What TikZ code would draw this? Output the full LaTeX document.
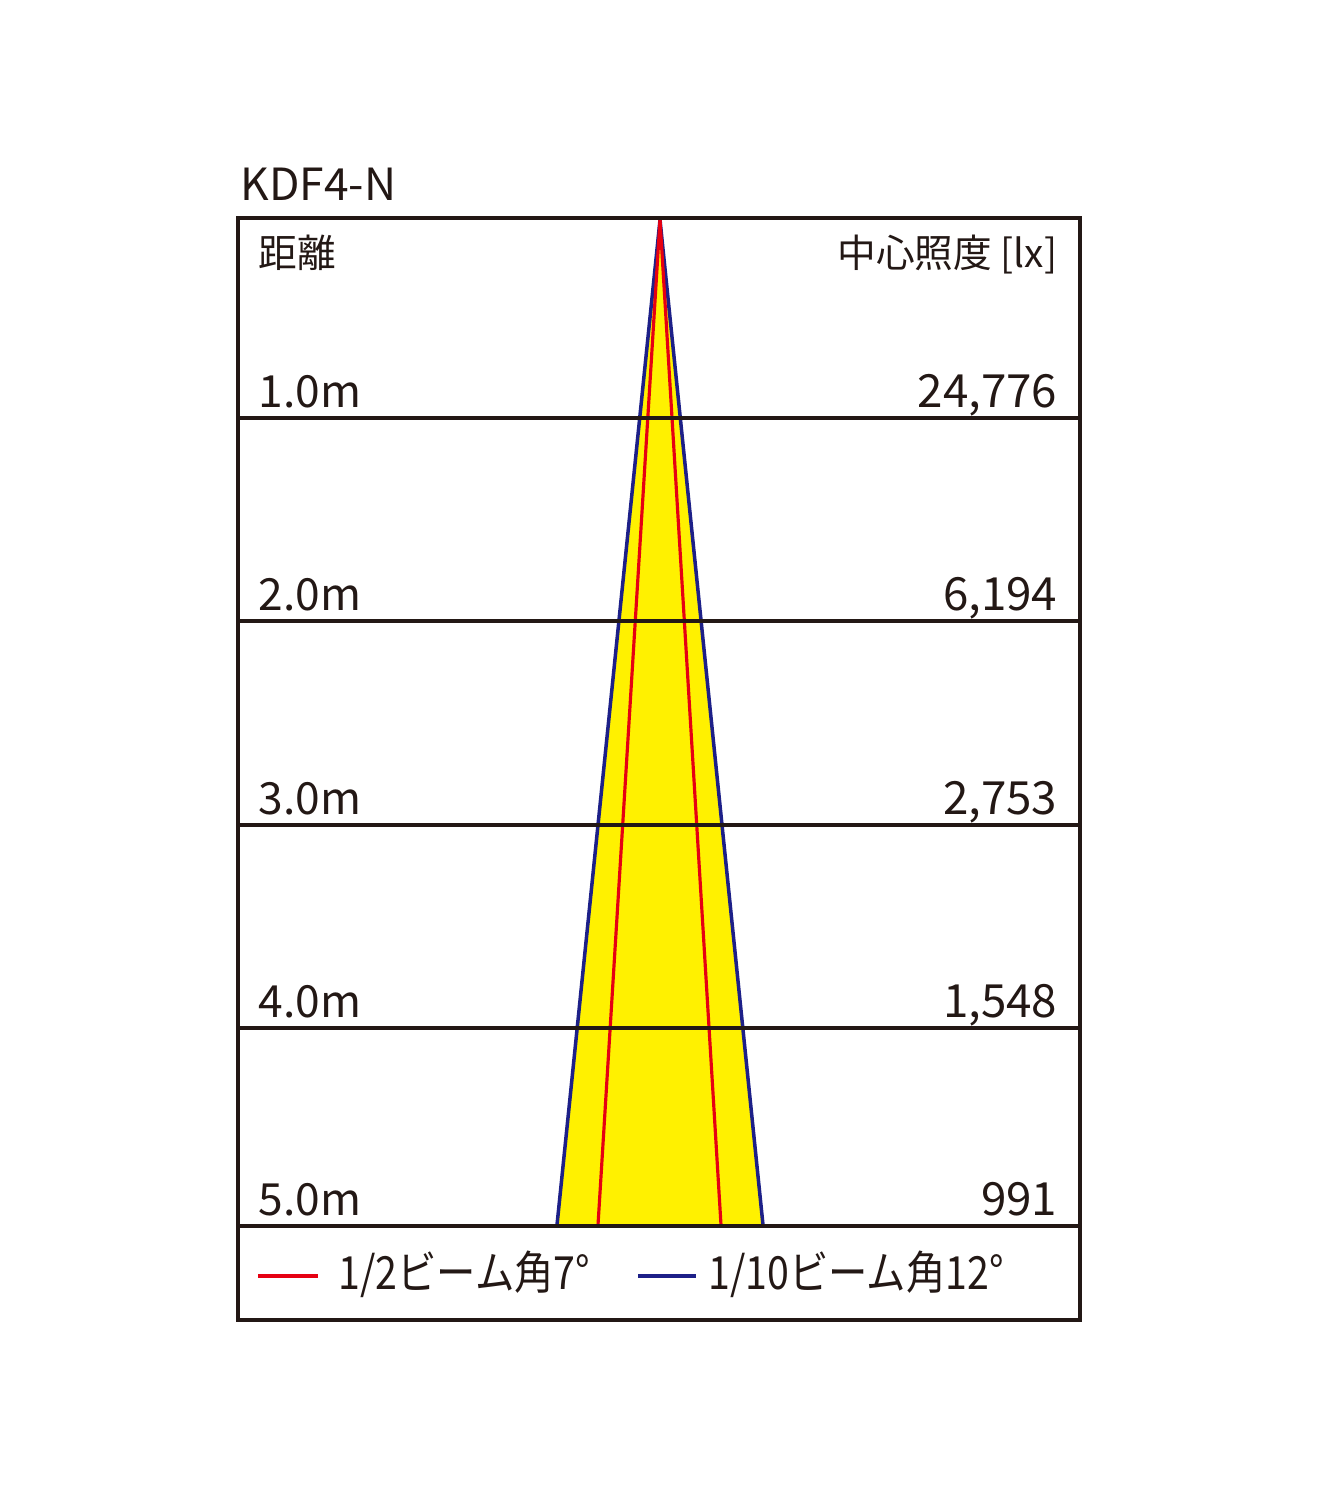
\documentclass[tikz,border=0pt]{standalone}
\usepackage{fontspec}
\setmainfont{Noto Sans CJK JP}
\usetikzlibrary{positioning}
\definecolor{ink}{HTML}{231815}
\definecolor{beamred}{HTML}{E60012}
\definecolor{beamblue}{HTML}{1D2088}
\definecolor{beamfill}{HTML}{FFF100}
\tikzset{
  frame/.style     = {draw=ink, line width=0.9pt},
  rowline/.style   = {draw=ink, line width=0.9pt},
  halfbeam/.style  = {draw=beamred, line width=0.9pt},
  tenthbeam/.style = {draw=beamblue, line width=1pt},
  rowlabel/.style  = {anchor=base west, inner sep=0pt, text=ink,
                      font=\fontsize{12.6}{15}\selectfont},
  rowvalue/.style  = {anchor=base east, inner sep=0pt, text=ink,
                      font=\fontsize{13}{15}\selectfont},
  head/.style      = {inner sep=0pt, text=ink, font=\fontsize{11}{13}\selectfont},
  legtext/.style   = {anchor=base west, inner sep=0pt, text=ink,
                      font=\fontsize{13}{15}\selectfont, xscale=0.86, transform shape}
}
\begin{document}
\begin{tikzpicture}[x=0.01cm, y=-0.01cm]
\useasboundingbox (0,0) rectangle (1323,1500);
% Title and headers
\node[rowlabel] (title) at (240,200) {KDF4-N};
\node[head, anchor=base west] (dist) at (258,268) {距離};
\node[head, anchor=base east] (lux) at (1058,268) {中心照度 [lx]};
% Beam cone
\coordinate (apex) at (660,220);
\coordinate (bl) at (557,1225);
\coordinate (br) at (763,1225);
\coordinate (rl) at (598,1225);
\coordinate (rr) at (721,1225);
\fill[beamfill] (apex) -- (bl) -- (br) -- cycle;
\draw[tenthbeam] (apex) -- (bl);
\draw[tenthbeam] (apex) -- (br);
\draw[halfbeam] (apex) -- (rl);
\draw[halfbeam] (apex) -- (rr);
% Rows
\foreach \y/\d/\v [count=\i] in {418/1.0m/{24,776}, 621/2.0m/{6,194},
    825/3.0m/{2,753}, 1028/4.0m/{1,548}, 1226/5.0m/991} {
  \coordinate (row\i w) at (238,\y);
  \coordinate (row\i e) at (1080,\y);
  \draw[rowline] (row\i w) -- (row\i e);
  \node[rowlabel] (dist\i) at (258,\y-11) {\d};
  \node[rowvalue] (lux\i) at (1058,\y-11) {\v};
}
% Outer frame
\draw[frame] (238,218) rectangle (1080,1320);
% Legend
\coordinate (redA) at (258,1276);
\coordinate (redB) at (318,1276);
\coordinate (blueA) at (638,1276);
\coordinate (blueB) at (696,1276);
\draw[halfbeam] (redA) -- (redB);
\draw[tenthbeam] (blueA) -- (blueB);
\node[legtext] (halfleg) at (338,1289) {1/2ビーム角7°};
\node[legtext] (tenthleg) at (708,1289) {1/10ビーム角12°};
\end{tikzpicture}
\end{document}
